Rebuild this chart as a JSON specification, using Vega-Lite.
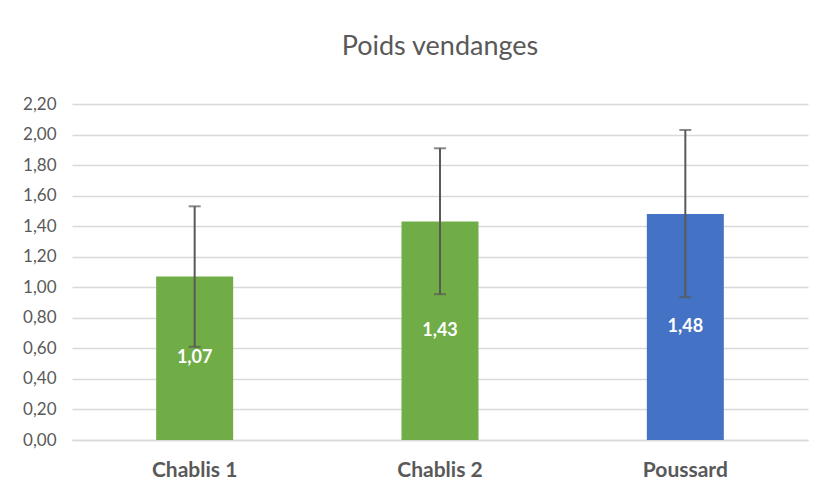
{
  "$schema": "https://vega.github.io/schema/vega-lite/v6.json",
  "autosize": {"type": "none"},
  "width": 736,
  "height": 336,
  "padding": {"left": 72, "top": 104, "right": 27, "bottom": 53},
  "background": "white",
  "title": {"text": "Poids vendanges", "fontSize": 27, "font": "Lato", "fontWeight": "normal", "color": "#595959", "offset": 34, "anchor": "middle"},
  "config": {
    "locale": {"number": {"decimal": ",", "thousands": " ", "grouping": [3], "currency": ["", " €"]}},
    "view": {"stroke": null},
    "font": "Lato",
    "axisY": {"title": null, "format": ".2f", "labelOverlap": false, "labelFontSize": 17, "labelColor": "#595959", "labelPadding": 16, "ticks": false, "domain": false, "gridColor": "#D9D9D9", "gridWidth": 1.3}
  },
  "data": {"values": [
    {"name": "Chablis 1", "value": 1.07, "lo": 0.61, "hi": 1.53},
    {"name": "Chablis 2", "value": 1.43, "lo": 0.955, "hi": 1.91},
    {"name": "Poussard", "value": 1.48, "lo": 0.935, "hi": 2.03}
  ]},
  "encoding": {
    "x": {"field": "name", "type": "nominal", "sort": null,
      "scale": {"paddingInner": 0, "paddingOuter": 0},
      "axis": {"title": null, "labelAngle": 0, "labelFontSize": 21, "labelFontWeight": "bold", "labelColor": "#595959", "labelPadding": 19, "ticks": false, "domainColor": "#D9D9D9", "domainWidth": 1.5}}
  },
  "layer": [
    {
      "mark": {"type": "bar", "size": 77},
      "encoding": {
        "y": {"field": "value", "type": "quantitative",
          "scale": {"domain": [0, 2.2], "nice": false},
          "axis": {"title": null, "values": [0, 0.2, 0.4, 0.6, 0.8, 1.0, 1.2, 1.4, 1.6, 1.8, 2.0, 2.2]}},
        "color": {"field": "name", "type": "nominal", "scale": {"domain": ["Chablis 1", "Chablis 2", "Poussard"], "range": ["#70AD47", "#70AD47", "#4472C4"]}, "legend": null}
      }
    },
    {
      "mark": {"type": "rule", "color": "#595959", "strokeWidth": 2},
      "encoding": {"y": {"field": "lo", "type": "quantitative", "axis": {"title": null, "values": [0, 0.2, 0.4, 0.6, 0.8, 1.0, 1.2, 1.4, 1.6, 1.8, 2.0, 2.2]}}, "y2": {"field": "hi"}}
    },
    {
      "mark": {"type": "tick", "color": "#595959", "thickness": 2, "size": 12},
      "encoding": {"y": {"field": "lo", "type": "quantitative", "axis": {"title": null, "values": [0, 0.2, 0.4, 0.6, 0.8, 1.0, 1.2, 1.4, 1.6, 1.8, 2.0, 2.2]}}}
    },
    {
      "mark": {"type": "tick", "color": "#595959", "thickness": 2, "size": 12},
      "encoding": {"y": {"field": "hi", "type": "quantitative", "axis": {"title": null, "values": [0, 0.2, 0.4, 0.6, 0.8, 1.0, 1.2, 1.4, 1.6, 1.8, 2.0, 2.2]}}}
    },
    {
      "transform": [{"calculate": "datum.value / 2", "as": "mid"}],
      "mark": {"type": "text", "color": "white", "fontWeight": "bold", "fontSize": 18, "baseline": "middle"},
      "encoding": {
        "y": {"field": "mid", "type": "quantitative", "axis": {"title": null, "values": [0, 0.2, 0.4, 0.6, 0.8, 1.0, 1.2, 1.4, 1.6, 1.8, 2.0, 2.2]}},
        "text": {"field": "value", "type": "quantitative", "format": ".2f"}
      }
    }
  ]
}
